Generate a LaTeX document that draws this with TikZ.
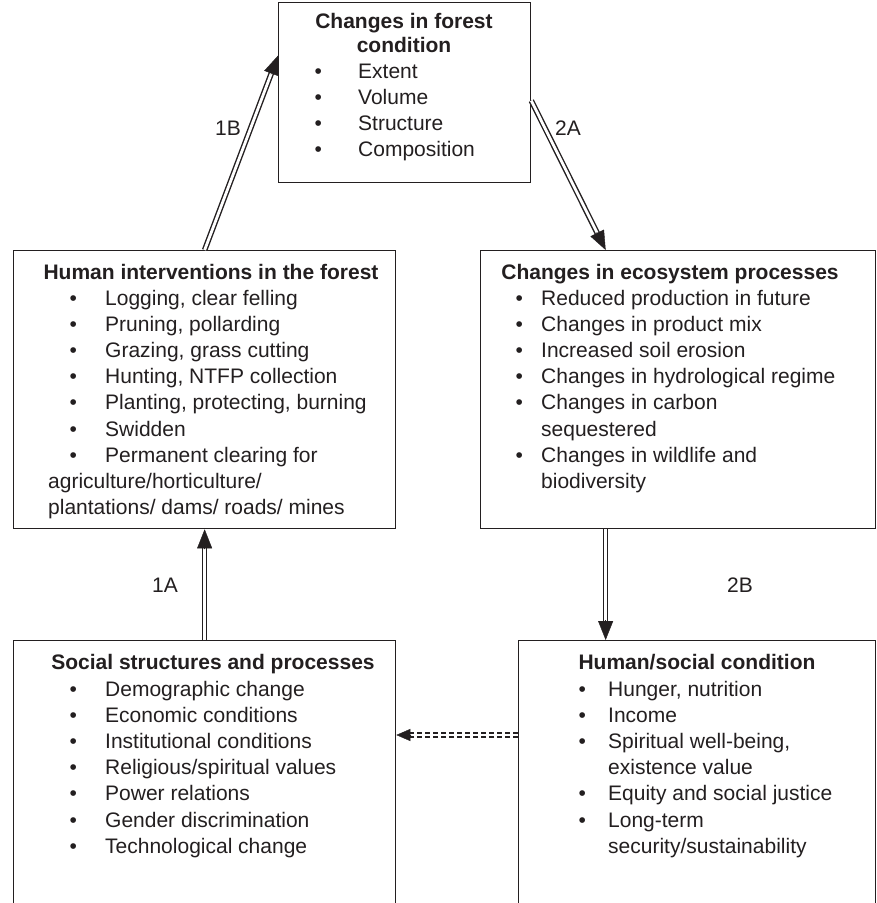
\documentclass[tikz,border=0pt]{standalone}
\usepackage{fontspec}
\setmainfont{Liberation Sans}
\usetikzlibrary{arrows.meta,calc}
\definecolor{ink}{RGB}{35,31,32}
\newcommand{\fs}{\fontsize{21}{26.2}\selectfont}
\newcommand{\bl}[2]{\makebox[#1][l]{\textbullet}#2}
\tikzset{
  box/.style={draw=ink, line width=1.3pt, inner sep=0pt, anchor=north west},
  txt/.style={anchor=base west, inner sep=0pt, text=ink, font=\fs},
  ttl/.style={anchor=base, inner sep=0pt, text=ink, font=\fs\bfseries},
  lbl/.style={inner sep=0pt, text=ink, font=\fs},
  dbl/.style={draw=ink, line width=1.4pt, double=white, double distance=2.8pt},
  tipA/.style={draw=ink, fill=ink, line width=0.4pt, -{Triangle[length=19pt,width=15pt]}},
  tipB/.style={draw=ink, fill=ink, line width=0.4pt, -{Triangle[length=14pt,width=12pt]}}
}
\begin{document}
\begin{tikzpicture}[x=1pt,y=-1pt]
\useasboundingbox (0,0) rectangle (877,903);
\fill[white] (0,0) rectangle (877,903);

% boxes
\node[box, minimum width=252pt, minimum height=180pt] (fc) at (278,2) {};
\node[box, minimum width=382pt, minimum height=278pt] (hi) at (13,250) {};
\node[box, minimum width=395pt, minimum height=278pt] (ep) at (480,250) {};
\node[box, minimum width=382pt, minimum height=290pt] (ss) at (13,640) {};
\node[box, minimum width=357pt, minimum height=290pt] (hs) at (518,640) {};

% top box text
\node[ttl] (fct1) at (404,28) {Changes in forest};
\node[ttl] (fct2) at (404,52) {condition};
\node[txt] (fcl) at (314.3,78) {\begin{tabular}[t]{@{}l@{}}
\bl{43.7pt}{Extent}\\
\bl{43.7pt}{Volume}\\
\bl{43.7pt}{Structure}\\
\bl{43.7pt}{Composition}
\end{tabular}};

% human interventions
\node[ttl] (hit) at (211,279) {Human interventions in the forest};
\node[txt] (hil) at (69.3,305) {\begin{tabular}[t]{@{}l@{}}
\bl{35.7pt}{Logging, clear felling}\\
\bl{35.7pt}{Pruning, pollarding}\\
\bl{35.7pt}{Grazing, grass cutting}\\
\bl{35.7pt}{Hunting, NTFP collection}\\
\bl{35.7pt}{Planting, protecting, burning}\\
\bl{35.7pt}{Swidden}\\
\bl{35.7pt}{Permanent clearing for}
\end{tabular}};
\node[txt] (hic) at (48,488) {\begin{tabular}[t]{@{}l@{}}
agriculture/horticulture/\\
plantations/ dams/ roads/ mines
\end{tabular}};

% ecosystem processes
\node[ttl] (ept) at (670,279) {Changes in ecosystem processes};
\node[txt] (epl) at (515.3,305) {\begin{tabular}[t]{@{}l@{}}
\bl{25.7pt}{Reduced production in future}\\
\bl{25.7pt}{Changes in product mix}\\
\bl{25.7pt}{Increased soil erosion}\\
\bl{25.7pt}{Changes in hydrological regime}\\
\bl{25.7pt}{Changes in carbon}\\
\hspace*{25.7pt}sequestered\\
\bl{25.7pt}{Changes in wildlife and}\\
\hspace*{25.7pt}biodiversity
\end{tabular}};

% social structures
\node[ttl] (sst) at (213,669) {Social structures and processes};
\node[txt] (ssl) at (69.3,696) {\begin{tabular}[t]{@{}l@{}}
\bl{35.7pt}{Demographic change}\\
\bl{35.7pt}{Economic conditions}\\
\bl{35.7pt}{Institutional conditions}\\
\bl{35.7pt}{Religious/spiritual values}\\
\bl{35.7pt}{Power relations}\\
\bl{35.7pt}{Gender discrimination}\\
\bl{35.7pt}{Technological change}
\end{tabular}};

% human/social condition
\node[ttl] (hst) at (697,669) {Human/social condition};
\node[txt] (hsl) at (578.3,696) {\begin{tabular}[t]{@{}l@{}}
\bl{29.7pt}{Hunger, nutrition}\\
\bl{29.7pt}{Income}\\
\bl{29.7pt}{Spiritual well-being,}\\
\hspace*{29.7pt}existence value\\
\bl{29.7pt}{Equity and social justice}\\
\bl{29.7pt}{Long-term}\\
\hspace*{29.7pt}security/sustainability
\end{tabular}};

% connector end points
\coordinate (a1s) at (ss.north);
\coordinate (a1e) at (hi.south);
\coordinate (b1s) at (hi.north);
\coordinate (b1e) at ([yshift=37pt]fc.west);
\coordinate (a2s) at ([yshift=-8pt]fc.east);
\coordinate (a2e) at ([xshift=-72.5pt]ep.north);
\coordinate (b2s) at ([xshift=-72.5pt]ep.south);
\coordinate (b2e) at (b2s |- hs.north);
\coordinate (ds) at ([yshift=-95pt]hs.north west);
\coordinate (de) at (ss.east |- ds);

% double arrows
\foreach \s/\e in {a1s/a1e, b1s/b1e, a2s/a2e, b2s/b2e}{
  \draw[dbl, shorten >=15pt] (\s) -- (\e);
  \draw[tipA] ($(\e)!20pt!(\s)$) -- (\e);
}
% dashed double arrow
\draw[dbl, dash pattern=on 5pt off 3pt, shorten >=11pt] (ds) -- (de);
\draw[tipB] ($(de)!15pt!(ds)$) -- (de);

% labels
\node[lbl] (l1a) at (165,585) {1A};
\node[lbl] (l1b) at (228,128) {1B};
\node[lbl] (l2a) at (568,128) {2A};
\node[lbl] (l2b) at (740,585) {2B};
\end{tikzpicture}
\end{document}
